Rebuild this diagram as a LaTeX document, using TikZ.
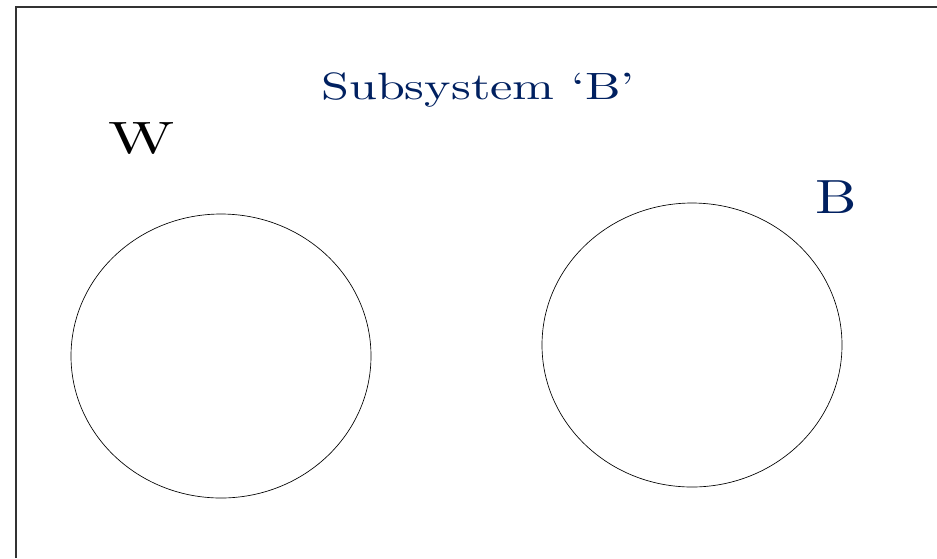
\documentclass[tikz,border=0pt]{standalone}
\usepackage{fontspec}
\setmainfont{lmroman10-regular.otf}
\definecolor{navy}{RGB}{0,32,96}
\begin{document}
\begin{tikzpicture}[x=0.75pt,y=-0.75pt,
  frameline/.style={draw=black!80,line width=1pt},
  setcircle/.style={draw=black,line width=0.5pt},
  lbl/.style={inner sep=0pt,anchor=base}]
\useasboundingbox (0,0) rectangle (937,558);
\coordinate (fb) at (16,558);
\coordinate (fc) at (16,7);
\coordinate (fr) at (937,7);
\draw[frameline] (fb) -- (fc) -- (fr);
\draw[setcircle] (221,356) ellipse [x radius=150, y radius=142];
\draw[setcircle] (692,345) ellipse [x radius=150, y radius=142];
\node[lbl,text=navy,font=\fontsize{28.5}{35}\selectfont] (title) at (478,99) {\scalebox{1.32}[1]{Subsystem ‘B’}};
\node[lbl,text=black,font=\fontsize{34}{40}\selectfont] (w) at (142,153) {\scalebox{1.42}[1]{W}};
\node[lbl,text=navy,font=\fontsize{36}{42}\selectfont] (b) at (836,213) {\scalebox{1.22}[1]{B}};
\end{tikzpicture}
\end{document}
